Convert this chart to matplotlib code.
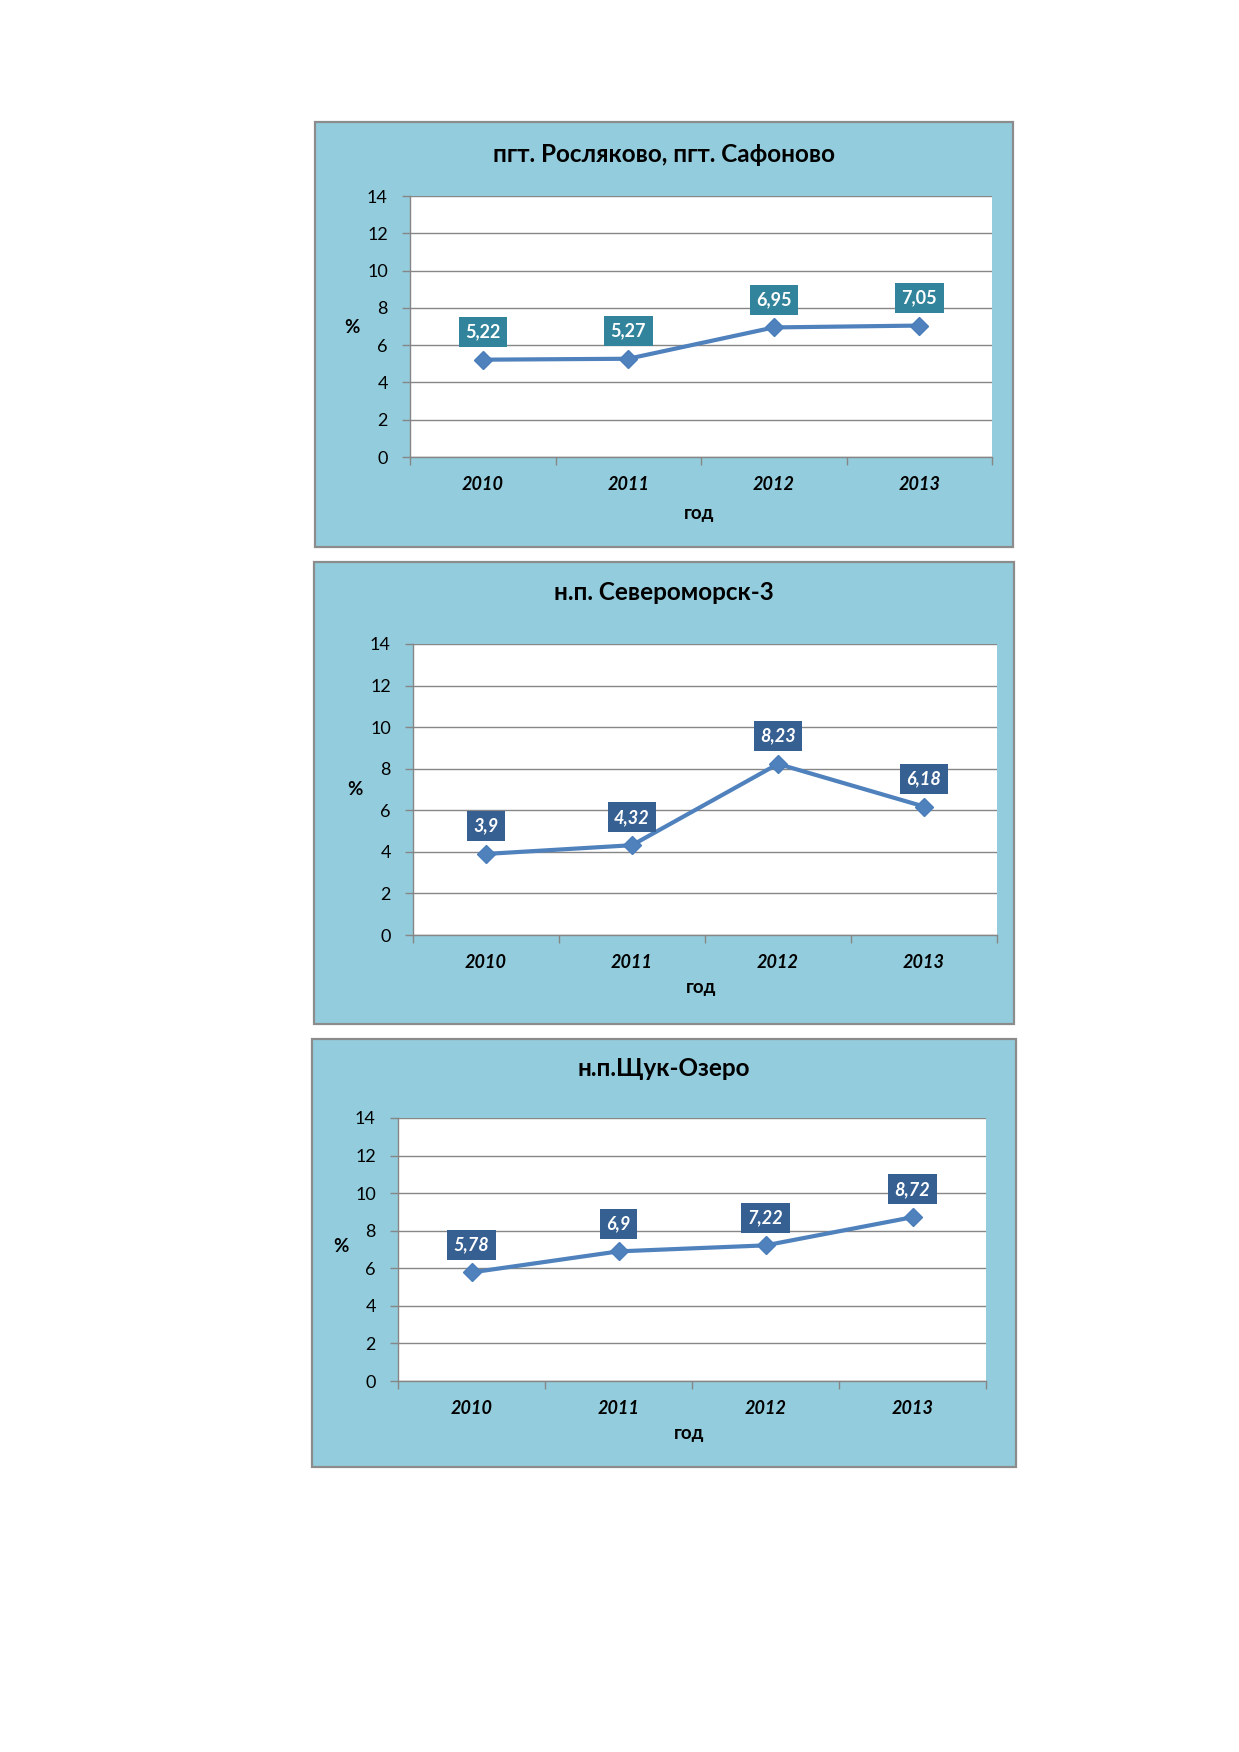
import matplotlib.pyplot as plt
from matplotlib.patches import Rectangle
import numpy as np

# данные
years = ["2010", "2011", "2012", "2013"]
titles = ["пгт. Росляково, пгт. Сафоново", "н.п. Североморск-3", "н.п.Щук-Озеро"]
values_roslyakovo = [5.22, 5.27, 6.95, 7.05]
values_severomorsk = [3.9, 4.32, 8.23, 6.18]
values_shchuk = [5.78, 6.9, 7.22, 8.72]
label_roslyakovo = ["5,22", "5,27", "6,95", "7,05"]
label_severomorsk = ["3,9", "4,32", "8,23", "6,18"]
label_shchuk = ["5,78", "6,9", "7,22", "8,72"]
y_ticks = [0, 2, 4, 6, 8, 10, 12, 14]

W, H = 1239, 1752
FONT = ["Lato", "DejaVu Sans"]
plt.rcParams["font.family"] = FONT

fig = plt.figure(figsize=(W / 100, H / 100), dpi=100)
fig.patch.set_facecolor("white")


def box(x0, y0, x1, y1):
    # пиксели -> доли фигуры
    return [x0 / W, 1 - y1 / H, (x1 - x0) / W, (y1 - y0) / H]


panels = [
    # рамка, область графика, y заголовка, позиция "%", позиция "год", цвет подписей, курсив
    ((315, 122, 1013, 547), (410, 196, 992, 457), 155, (352, 328), (699, 514), "#31849B", "normal"),
    ((314, 562, 1014, 1024), (413, 644, 997, 935), 592, (355, 789), (701, 988), "#366092", "italic"),
    ((312, 1039, 1016, 1467), (398, 1118, 986, 1381), 1068, (341, 1246), (689, 1433), "#366092", "italic"),
]
series = [values_roslyakovo, values_severomorsk, values_shchuk]
labels = [label_roslyakovo, label_severomorsk, label_shchuk]

for (pb, ab, ty, pct, god, lcolor, lstyle), title, vals, labs in zip(panels, titles, series, labels):
    # фон панели
    fig.patches.append(Rectangle((pb[0] / W, 1 - pb[3] / H), (pb[2] - pb[0]) / W, (pb[3] - pb[1]) / H,
                                 transform=fig.transFigure, facecolor="#93CDDD",
                                 edgecolor="#8C8C8C", linewidth=1.6, zorder=-5))
    fig.text((pb[0] + pb[2]) / 2 / W, 1 - ty / H, title, ha="center", va="center",
             fontsize=17.5, fontweight="bold", color="black")
    fig.text(pct[0] / W, 1 - pct[1] / H, "%", ha="center", va="center",
             fontsize=13.5, fontweight="bold")
    fig.text(god[0] / W, 1 - god[1] / H, "год", ha="center", va="center",
             fontsize=13.5, fontweight="bold")

    ax = fig.add_axes(box(*ab))
    ax.set_facecolor("white")
    x = np.arange(len(years))
    ax.plot(x, vals, color="#4F81BD", linewidth=3, marker="D", markersize=9.5,
            markerfacecolor="#4F81BD", markeredgecolor="#4A7EBB", zorder=3)
    for xi, v, t in zip(x, vals, labs):
        ax.annotate(t, (xi, v), xytext=(0, 20), textcoords="offset points",
                    ha="center", va="center", color="white", fontsize=13,
                    fontweight="bold", fontstyle=lstyle, zorder=4,
                    bbox=dict(boxstyle="square,pad=0.36", facecolor=lcolor, edgecolor="none"))

    ax.set_xlim(-0.5, 3.5)
    ax.set_ylim(0, 14)
    ax.set_yticks(y_ticks)
    ax.set_yticklabels([str(t) for t in y_ticks], fontsize=13)
    ax.set_xticks(x)
    ax.set_xticklabels(years, fontsize=13, fontweight="bold", fontstyle="italic")
    ax.set_xticks(np.arange(-0.5, 4.0, 1.0), minor=True)
    ax.tick_params(axis="x", which="major", length=0, pad=14)
    ax.tick_params(axis="x", which="minor", length=6, color="#868686", width=1)
    ax.tick_params(axis="y", length=6, color="#868686", width=1, pad=10)
    ax.grid(axis="y", color="#868686", linewidth=1)
    ax.set_axisbelow(True)
    for s in ["top", "right"]:
        ax.spines[s].set_visible(False)
    for s in ["left", "bottom"]:
        ax.spines[s].set_color("#868686")
        ax.spines[s].set_linewidth(1)

fig.savefig("out.png", dpi=100, facecolor="white")
